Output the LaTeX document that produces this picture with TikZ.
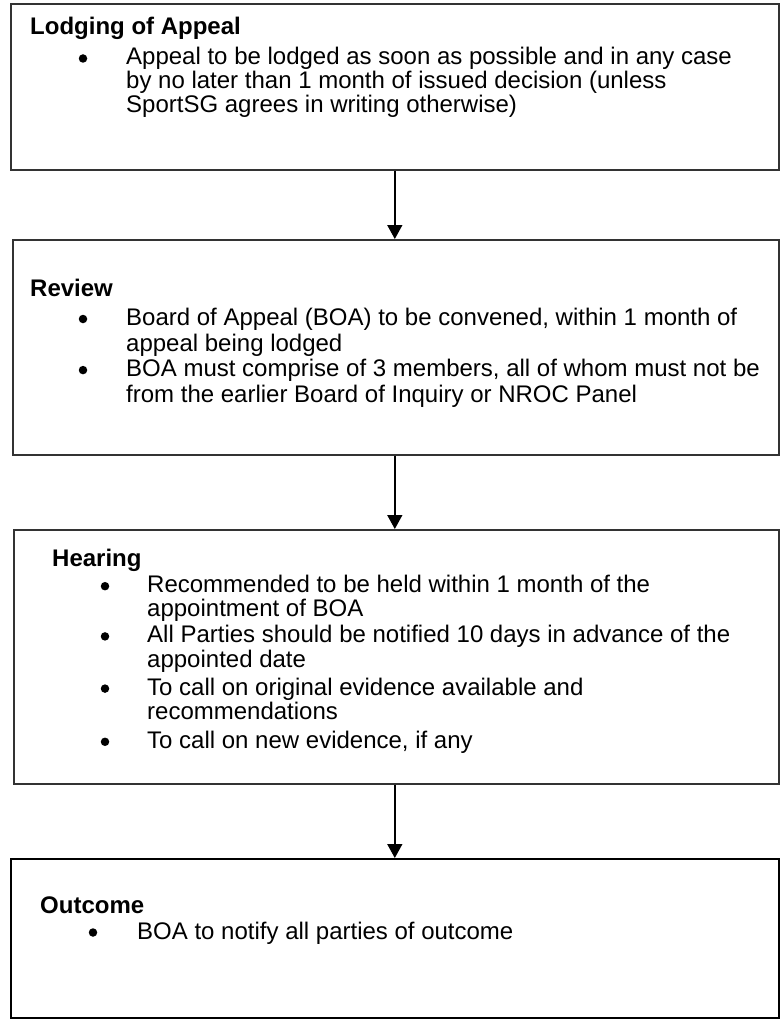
\documentclass[tikz,border=0pt]{standalone}
\usepackage{fontspec}
\setmainfont{Liberation Sans}
\usetikzlibrary{arrows.meta}
\begin{document}
\begin{tikzpicture}[x=1pt,y=-1pt]
  %
  \tikzstyle{box} = [draw=black!80, line width=1.6pt, anchor=north west, inner sep=0pt]
  \tikzstyle{head} = [anchor=base west, inner sep=0pt, font=\fontsize{24}{24}\selectfont\bfseries]
  \tikzstyle{txt} = [anchor=base west, inner sep=0pt, font=\fontsize{24}{24}\selectfont]
  \tikzstyle{dot} = [circle, fill=black, inner sep=0pt, minimum size=8.5pt]
  \tikzstyle{link} = [line width=1.5pt, -{Triangle[length=14pt,width=15pt]}]
  \useasboundingbox (0,0) rectangle (779,1019);
  \fill[white] (0,0) rectangle (779,1019);
  %
  \node[box, minimum width=768pt, minimum height=166pt] (lodging) at (10,3) {};
  \node[box, minimum width=766pt, minimum height=215pt] (review) at (12,239) {};
  \node[box, minimum width=765pt, minimum height=254pt] (hearing) at (13,529) {};
  \node[box, draw=black, line width=2.2pt, minimum width=768pt, minimum height=159pt] (outcome) at (10,858) {};
  %
  \node[head] (lodging-head) at (30,35) {Lodging of Appeal};
  \node[dot] (lodging-b1) at (83,58.5) {};
  \foreach \y/\t [count=\i] in {65/Appeal to be lodged as soon as possible and in any case,
                                89/by no later than 1 month of issued decision (unless,
                                113/SportSG agrees in writing otherwise)}
    \node[txt] (lodging-\i) at (126,\y) {\t};
  %
  \node[head] (review-head) at (30,296) {Review};
  \node[dot] (review-b1) at (83,319) {};
  \node[dot] (review-b2) at (83,370.1) {};
  \foreach \y/\t [count=\i] in {325.5/{Board of Appeal (BOA) to be convened, within 1 month of},
                                351/appeal being lodged,
                                376.6/{BOA must comprise of 3 members, all of whom must not be},
                                402.2/from the earlier Board of Inquiry or NROC Panel}
    \node[txt] (review-\i) at (126,\y) {\t};
  %
  \node[head] (hearing-head) at (52,566.5) {Hearing};
  \foreach \y [count=\i] in {586.2,636.4,688.6,741.8}
    \node[dot] (hearing-b\i) at (105,\y) {};
  \foreach \y/\t [count=\i] in {592.7/Recommended to be held within 1 month of the,
                                616.5/appointment of BOA,
                                642.9/All Parties should be notified 10 days in advance of the,
                                667.3/appointed date,
                                695.1/To call on original evidence available and,
                                719.5/recommendations,
                                748.3/{To call on new evidence, if any}}
    \node[txt] (hearing-\i) at (147,\y) {\t};
  %
  \node[head] (outcome-head) at (40,913.5) {Outcome};
  \node[dot] (outcome-b1) at (93,932.5) {};
  \node[txt] (outcome-1) at (137,939) {BOA to notify all parties of outcome};
  %
  \draw[link] (lodging.south) -- (lodging.south |- review.north);
  \draw[link] (review.south -| lodging.south) -- (lodging.south |- hearing.north);
  \draw[link] (hearing.south -| lodging.south) -- (lodging.south |- outcome.north);
\end{tikzpicture}
\end{document}
